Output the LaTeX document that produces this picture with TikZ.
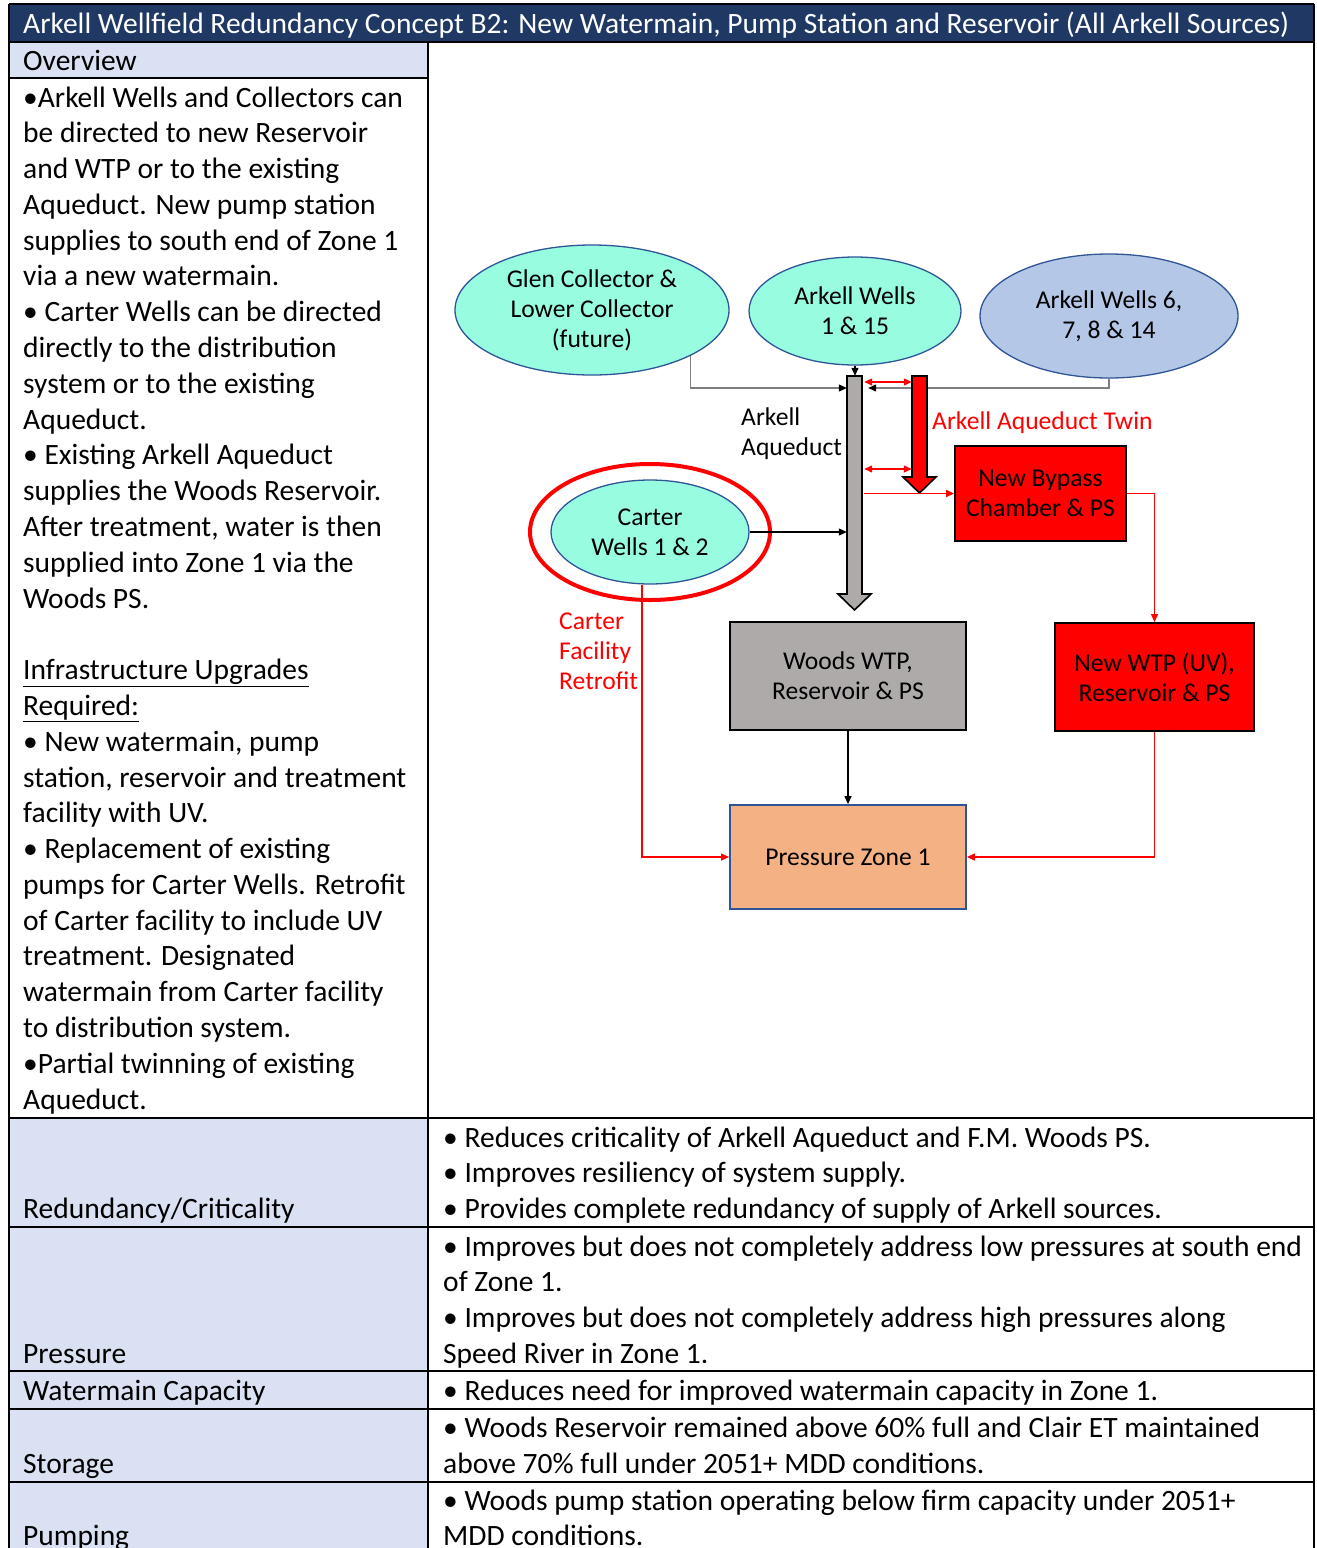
\documentclass[tikz,border=0pt]{standalone}
\usepackage{fontspec}
\setmainfont{Carlito}
\usepackage{graphicx}
\usetikzlibrary{shapes.geometric,arrows.meta,calc}
\definecolor{navy}{HTML}{203864}
\definecolor{cellblue}{HTML}{D9E1F2}
\definecolor{aqua}{RGB}{152,252,224}
\definecolor{ellborder}{HTML}{2F5597}
\definecolor{lav}{HTML}{B4C7E7}
\definecolor{greybox}{HTML}{AEAAAA}
\definecolor{orangebox}{HTML}{F4B183}
\definecolor{midgrey}{HTML}{7F7F7F}
\begin{document}
\begin{tikzpicture}[x=1pt,y=-1pt,
  body/.style={font=\fontsize{29.5}{36}\selectfont, inner sep=0, anchor=base west},
  dg/.style={font=\fontsize{25.6}{30}\selectfont, align=center, inner sep=0},
  ell/.style={ellipse, draw=ellborder, line width=1.3, fill=aqua, inner sep=0, dg},
  box/.style={rectangle, draw=black, line width=1.8, inner sep=0, dg},
  tbl/.style={line width=2, draw=black},
  tipk/.style={-{Triangle[length=8,width=7,color=black]}},
  tipr/.style={-{Triangle[length=8,width=7]}},
  gl/.style={draw=midgrey, line width=1.2},
  bl/.style={draw=black, line width=1.2},
  rl/.style={draw=red, line width=1.2},
]
\useasboundingbox (0,0) rectangle (1317,1548);
% ---------- table ----------
\fill[navy] (9,4) rectangle (1314,42);
\fill[cellblue] (9,42) rectangle (428,78);
\fill[cellblue] (9,1118) rectangle (428,1548);
\draw[tbl] (9,4) -- (1314,4);
\draw[tbl] (9,4) -- (9,1549);
\draw[tbl] (1314,4) -- (1314,1549);
\draw[tbl] (428,42) -- (428,1549);
\draw[tbl] (9,42) -- (1314,42);
\draw[tbl] (9,78) -- (428,78);
\foreach \yy in {1118,1227,1371,1409,1482} \draw[tbl] (9,\yy) -- (1314,\yy);

\node[body, text=white] (title) at (23,33) {Arkell Wellfield Redundancy Concept B2: New Watermain, Pump Station and Reservoir (All Arkell Sources)};
\node[body] (ovh) at (23,70) {Overview};

\foreach \t [count=\i from 0] in {
 {•Arkell Wells and Collectors can},
 {be directed to new Reservoir},
 {and WTP or to the existing},
 {Aqueduct. New pump station},
 {supplies to south end of Zone 1},
 {via a new watermain.},
 {• Carter Wells can be directed},
 {directly to the distribution},
 {system or to the existing},
 {Aqueduct.},
 {• Existing Arkell Aqueduct},
 {supplies the Woods Reservoir.},
 {After treatment, water is then},
 {supplied into Zone 1 via the},
 {Woods PS.},
 {},
 {\underline{Infrastructure Upgrades}},
 {\underline{Required:}},
 {• New watermain, pump},
 {station, reservoir and treatment},
 {facility with UV.},
 {• Replacement of existing},
 {pumps for Carter Wells. Retrofit},
 {of Carter facility to include UV},
 {treatment. Designated},
 {watermain from Carter facility},
 {to distribution system.},
 {•Partial twinning of existing},
 {Aqueduct.}}
 \node[body] (ov\i) at (23,107+35.79*\i) {\t};

% bottom rows, left labels
\node[body] (lred) at (23,1218) {Redundancy/Criticality};
\node[body] (lpre) at (23,1363) {Pressure};
\node[body] (lwat) at (23,1400) {Watermain Capacity};
\node[body] (lsto) at (23,1473) {Storage};
\node[body] (lpum) at (23,1545) {Pumping};
% right texts
\node[body] (r1) at (443,1147) {• Reduces criticality of Arkell Aqueduct and F.M. Woods PS.};
\node[body] (r2) at (443,1182) {• Improves resiliency of system supply.};
\node[body] (r3) at (443,1218) {• Provides complete redundancy of supply of Arkell sources.};
\node[body] (r4) at (443,1256) {• Improves but does not completely address low pressures at south end};
\node[body] (r5) at (443,1291) {of Zone 1.};
\node[body] (r6) at (443,1327) {• Improves but does not completely address high pressures along};
\node[body] (r7) at (443,1363) {Speed River in Zone 1.};
\node[body] (r8) at (443,1400) {• Reduces need for improved watermain capacity in Zone 1.};
\node[body] (r9) at (443,1437) {• Woods Reservoir remained above 60\% full and Clair ET maintained};
\node[body] (r10) at (443,1473) {above 70\% full under 2051+ MDD conditions.};
\node[body] (r11) at (443,1510) {• Woods pump station operating below firm capacity under 2051+};
\node[body] (r12) at (443,1545) {MDD conditions.};

% ---------- diagram ----------
\node[ell, minimum width=274, minimum height=130] (glen) at (592,310) {Glen Collector \&\\Lower Collector\\(future)};
\node[ell, minimum width=212, minimum height=108] (a15) at (855,311) {Arkell Wells\\1 \& 15};
\node[ell, fill=lav, minimum width=258, minimum height=124] (a6) at (1109,316) {Arkell Wells 6,\\7, 8 \& 14};
\node[ellipse, draw=red, line width=4, minimum width=240, minimum height=136, inner sep=0] (ring) at (650,532) {};
\node[ell, minimum width=198, minimum height=104] (carter) at (650,532) {Carter\\Wells 1 \& 2};

\node[box, fill=red, minimum width=171, minimum height=95] (bypass) at (1040.5,493.5) {New Bypass\\Chamber \& PS};
\node[box, fill=greybox, minimum width=236, minimum height=108] (woods) at (848,676) {Woods WTP,\\Reservoir \& PS};
\node[box, fill=red, minimum width=199, minimum height=108] (newwtp) at (1154.5,677) {New WTP (UV),\\Reservoir \& PS};
\node[box, fill=orangebox, draw=ellborder, minimum width=236, minimum height=104] (pz) at (848,857) {Pressure Zone 1};

% shaft name holders
\node[inner sep=0, minimum width=15, minimum height=218] (aq) at (854.5,485) {};
\node[inner sep=0, minimum width=15, minimum height=101] (twin) at (919.5,426.5) {};

% connectors (behind arrows)
\draw[gl, tipk] (glen.-25) |- (aq.west |- 0,388);
\draw[gl, tipk] (a6.south) |- ([xshift=6pt]aq.east |- 0,388);
\draw[bl, tipk] (a15.south) -- (a15.south |- aq.north);

% aqueduct arrow
\draw[line width=1.6, fill=greybox] (847,376) -- (862,376) -- (862,594) -- (871,594) -- (854.5,610) -- (838,594) -- (847,594) -- cycle;
% twin arrow
\draw[line width=1.6, fill=red] (912,376) -- (927,376) -- (927,477) -- (936,477) -- (919.5,493) -- (903,477) -- (912,477) -- cycle;

\draw[rl, {Triangle[length=8,width=7]}-{Triangle[length=8,width=7]}] ([xshift=2pt]aq.east |- 0,382) -- (twin.west |- 0,382);
\draw[rl, {Triangle[length=8,width=7]}-{Triangle[length=8,width=7]}] ([xshift=2pt]aq.east |- 0,469) -- (twin.west |- 0,469);
\draw[rl, tipr] ([xshift=2pt]aq.east |- bypass.west) -- (bypass.west);
\draw[bl, tipk] (carter.east) -- (carter.east -| aq.west);
\draw[rl, tipr] ([xshift=-8pt]carter.south) |- (pz.west);
\draw[bl, tipk] (woods.south) -- (pz.north);
\draw[rl, tipr] (bypass.east) -| (newwtp.north);
\draw[rl, tipr] (newwtp.south) |- (pz.east);

% labels
\node[dg, align=left, anchor=west] (aqlab) at (741,434) {Arkell\\Aqueduct};
\node[dg, text=red, anchor=west] (twinlab) at (932,423) {Arkell Aqueduct Twin};
\node[dg, text=red, align=left, anchor=west] (cflab) at (559,651) {Carter\\Facility\\Retrofit};
\end{tikzpicture}
\end{document}
